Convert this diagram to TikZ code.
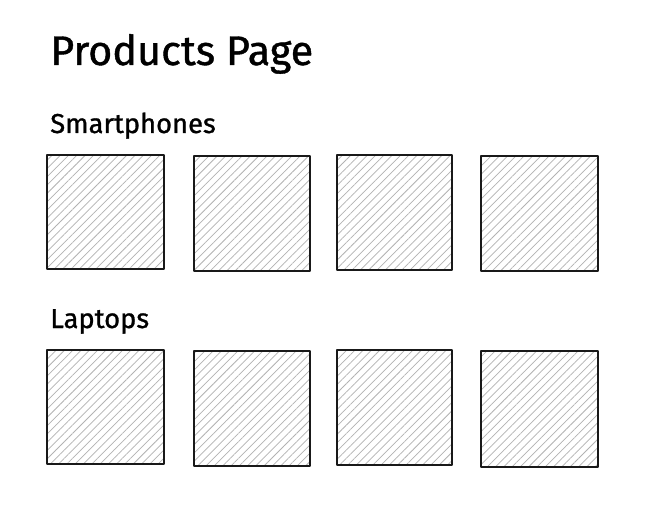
\documentclass[tikz,border=0pt]{standalone}
\usepackage{fontspec}
\setmainfont{Fira Sans}
\newfontfamily\hand[FakeBold=1.0]{Fira Sans}
\usetikzlibrary{patterns.meta}
\tikzset{
  card/.style={draw=black!90, line width=1.1pt, line join=round,
    pattern={Lines[angle=45,distance=4.4pt,line width=0.55pt]}, pattern color=black!30},
  title/.style={anchor=base west, inner sep=0pt, font=\hand\fontsize{31}{35}\selectfont},
  section/.style={anchor=base west, inner sep=0pt, font=\hand\fontsize{20.5}{24}\selectfont},
}
\begin{document}
\begin{tikzpicture}[x=0.75pt,y=-0.75pt]
\useasboundingbox (0,0) rectangle (653,506);
\fill[white] (0,0) rectangle (653,506);
\node[title] (t) at (50,65) {Products Page};
\node[section] (s1) at (50,133) {Smartphones};
\node[section] (s2) at (50,328) {Laptops};
% row 1
\draw[card] (47,155) rectangle (164,269) node[pos=0.5,inner sep=0] (a1) {};
\draw[card] (194,156) rectangle (310,271) node[pos=0.5,inner sep=0] (a2) {};
\draw[card] (337,155) rectangle (452,270) node[pos=0.5,inner sep=0] (a3) {};
\draw[card] (481,156) rectangle (598,271) node[pos=0.5,inner sep=0] (a4) {};
% row 2
\draw[card] (47,350) rectangle (164,464) node[pos=0.5,inner sep=0] (b1) {};
\draw[card] (194,351) rectangle (310,466) node[pos=0.5,inner sep=0] (b2) {};
\draw[card] (337,350) rectangle (452,465) node[pos=0.5,inner sep=0] (b3) {};
\draw[card] (481,351) rectangle (598,467) node[pos=0.5,inner sep=0] (b4) {};
\end{tikzpicture}
\end{document}
